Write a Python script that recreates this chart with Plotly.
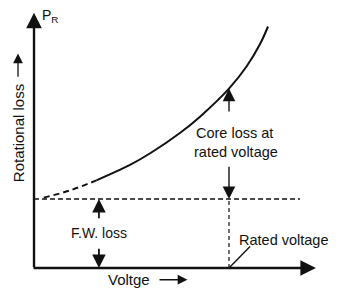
import plotly.graph_objects as go

# ---- data (voltage in per-unit of rated, loss in per-unit of F.W. loss) ----
voltage = [0.05, 0.18, 0.32, 0.49, 0.60, 0.75, 0.85, 1.00, 1.09, 1.16, 1.20]
rot_loss = [1.02, 1.12, 1.27, 1.49, 1.67, 1.96, 2.19, 2.60, 2.92, 3.25, 3.50]
dash_end = 3          # first 3 points drawn dashed
fw_loss = 1.0
rated_v = 1.0
x_axis_end = 1.446
y_axis_end = 3.70
fw_line_end = 1.364

FONT = "Liberation Sans, Arial, sans-serif"
BLACK = "#111111"

fig = go.Figure()

fig.add_trace(go.Scatter(x=voltage[:dash_end], y=rot_loss[:dash_end], mode="lines",
                         line=dict(color=BLACK, width=2, dash="6px,4px", shape="spline"),
                         hoverinfo="skip"))
fig.add_trace(go.Scatter(x=voltage[dash_end - 1:], y=rot_loss[dash_end - 1:], mode="lines",
                         line=dict(color=BLACK, width=2, shape="spline", smoothing=1.0),
                         hoverinfo="skip"))
# F.W. loss level (dashed horizontal)
fig.add_trace(go.Scatter(x=[0, fw_line_end], y=[fw_loss, fw_loss], mode="lines",
                         line=dict(color=BLACK, width=1.6, dash="5px,3px"), hoverinfo="skip"))
# rated voltage (dashed vertical)
fig.add_trace(go.Scatter(x=[rated_v, rated_v], y=[0, fw_loss], mode="lines",
                         line=dict(color=BLACK, width=1.2, dash="4px,3px"), hoverinfo="skip"))

core_at_rated = rot_loss[voltage.index(rated_v)]

def arrow(x, y, ax, ay, width=1.4, size=1.8, head=2):
    fig.add_annotation(x=x, y=y, ax=ax, ay=ay, xref="x", yref="y", axref="x", ayref="y",
                       text="", showarrow=True, arrowhead=head, arrowsize=size,
                       arrowwidth=width, arrowcolor=BLACK, standoff=0, startstandoff=0)

# axes with arrows
arrow(0, y_axis_end, 0, -0.01, width=2.4, size=1.3)
arrow(x_axis_end, 0, -0.01, 0, width=2.4, size=1.3)

# core loss arrows
arrow(rated_v, core_at_rated, rated_v, 2.246)
arrow(rated_v, fw_loss, rated_v, 1.49)
# F.W. loss arrows
fw_x = 0.333
arrow(fw_x, fw_loss, fw_x, 0.70, width=1.8, size=1.5)
arrow(fw_x, 0, fw_x, 0.30, width=1.8, size=1.5)

# rated voltage pointer
fig.add_trace(go.Scatter(x=[1.005, 1.108], y=[0.015, 0.31], mode="lines",
                         line=dict(color=BLACK, width=1.4), hoverinfo="skip"))

def label(x, y, text, size=14.5, angle=0):
    fig.add_annotation(x=x, y=y, xref="x", yref="y", text=text, showarrow=False,
                       font=dict(family=FONT, size=size, color=BLACK), textangle=angle,
                       xanchor="center", yanchor="middle")

label(1.03, 1.96, "Core loss at")
label(1.035, 1.68, "rated voltage")
label(0.333, 0.51, "F.W. loss", size=14)
label(1.28, 0.405, "Rated voltage")
label(0.487, -0.17, "Voltge", size=15)
label(0.082, 3.65, "P<sub>R</sub>", size=14)
label(-0.08, 1.96, "Rotational loss", size=15, angle=-90)

# small label arrows
fig.add_annotation(x=0.787, y=-0.17, ax=0.636, ay=-0.17, xref="x", yref="y", axref="x", ayref="y",
                   text="", showarrow=True, arrowhead=2, arrowsize=1.5, arrowwidth=1.3,
                   arrowcolor=BLACK, standoff=0)
fig.add_annotation(x=-0.082, y=3.107, ax=-0.082, ay=2.75, xref="x", yref="y", axref="x", ayref="y",
                   text="", showarrow=True, arrowhead=2, arrowsize=1.5, arrowwidth=1.3,
                   arrowcolor=BLACK, standoff=0)

fig.update_layout(width=353, height=294, margin=dict(l=0, r=0, t=0, b=0),
                  paper_bgcolor="white", plot_bgcolor="white", showlegend=False)
fig.update_xaxes(range=[-0.1744, 1.636], visible=False, fixedrange=True)
fig.update_yaxes(range=[-0.3768, 3.884], visible=False, fixedrange=True)

fig.write_html("out.html", config={"displayModeBar": False})
